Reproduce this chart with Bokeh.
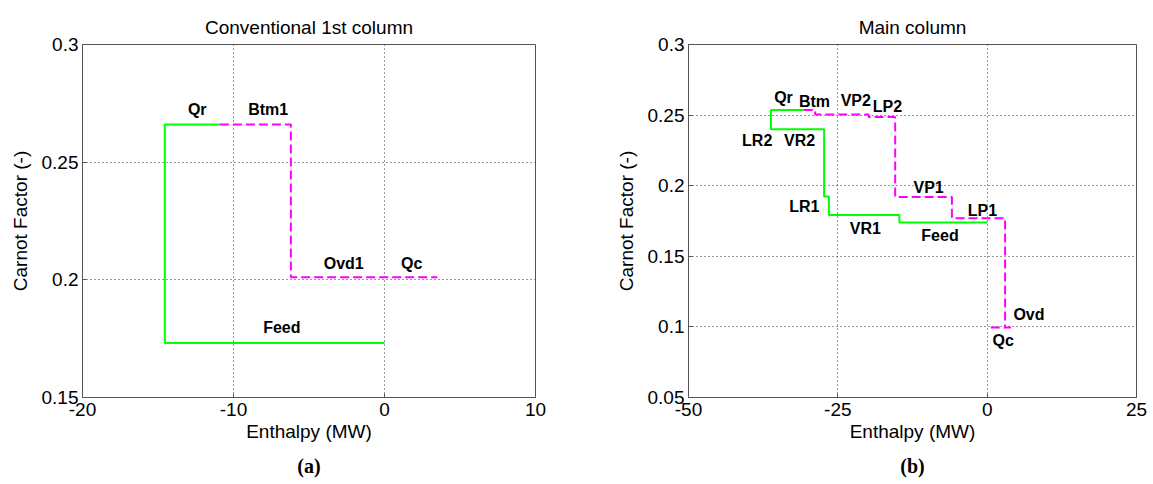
from bokeh.plotting import figure
from bokeh.layouts import row
from bokeh.models import FixedTicker, CustomJSTickFormatter, Title, ColumnDataSource
from bokeh.embed import file_html
from bokeh.resources import INLINE
from bokeh.core.properties import value

# ---------------- data: (a) Conventional 1st column ----------------
a_green_x = [-10.9, -14.55, -14.55, 0.0]
a_green_y = [0.266, 0.266, 0.1732, 0.1732]
a_mag_x = [-10.9, -6.2, -6.2, 3.5]
a_mag_y = [0.266, 0.266, 0.2011, 0.2011]
a_lab_text = ["Qr", "Btm1", "Ovd1", "Qc", "Feed"]
a_lab_x = [-12.4, -7.7, -2.7, 1.8, -6.8]
a_lab_y = [0.2723, 0.2724, 0.2068, 0.2068, 0.1799]
a_xticks = [-20, -10, 0, 10]
a_yticks = [0.15, 0.2, 0.25, 0.3]

# ---------------- data: (b) Main column ----------------
b_green_x = [-30.7, -36.2, -36.2, -27.3, -27.3, -26.5, -26.5, -14.7, -14.7, 0.0]
b_green_y = [0.2537, 0.2537, 0.240, 0.240, 0.1923, 0.1923, 0.1792, 0.1792, 0.174, 0.174]
b_mag_x = [-30.7, -28.8, -28.8, -19.85, -19.85, -15.4, -15.4, -5.9, -5.9, 3.0, 3.0, 4.5]
b_mag_y = [0.2537, 0.2537, 0.2505, 0.2505, 0.2486, 0.2486, 0.192, 0.192, 0.177, 0.177, 0.0995, 0.0995]
b_qc_x = [0.6, 3.0]
b_qc_y = [0.0995, 0.0995]
b_lab_text = ["Qr", "Btm", "VP2", "LP2", "LR2", "VR2", "LR1", "VR1", "Feed", "VP1", "LP1", "Ovd", "Qc"]
b_lab_x = [-34.1, -28.9, -22.0, -16.7, -38.5, -31.4, -30.6, -20.4, -7.9, -9.8, -0.8, 7.0, 2.7]
b_lab_y = [0.2627, 0.2599, 0.2604, 0.2561, 0.2322, 0.2322, 0.1852, 0.1696, 0.1650, 0.1989, 0.1826, 0.1085, 0.0905]
b_xticks = [-50, -25, 0, 25]
b_yticks = [0.05, 0.1, 0.15, 0.2, 0.25, 0.3]

GREEN = "#00ff00"
MAGENTA = "#ff00ff"
FRAME = "#555555"
FONT = "Liberation Sans"


def style(p, xticks, yticks, caption):
    p.title.text_font = FONT
    p.title.text_font_size = "19px"
    p.title.text_font_style = "normal"
    p.title.align = "center"
    p.title.standoff = 13
    p.title.text_color = "black"
    p.outline_line_color = FRAME
    p.outline_line_width = 1
    p.background_fill_color = "white"
    p.border_fill_color = "white"
    for ax in (p.xaxis[0], p.yaxis[0]):
        ax.axis_line_color = FRAME
        ax.major_tick_line_color = FRAME
        ax.major_tick_in = 4
        ax.major_tick_out = 0
        ax.minor_tick_line_color = None
        ax.major_label_text_font = FONT
        ax.major_label_text_font_size = "19px"
        ax.major_label_text_color = "black"
        ax.axis_label_text_font = FONT
        ax.axis_label_text_font_size = "19px"
        ax.axis_label_text_font_style = "normal"
        ax.axis_label_text_color = "black"
    p.xaxis[0].ticker = FixedTicker(ticks=xticks)
    p.yaxis[0].ticker = FixedTicker(ticks=yticks)
    p.xaxis[0].formatter = CustomJSTickFormatter(code="return String(tick);")
    p.yaxis[0].formatter = CustomJSTickFormatter(code="return String(parseFloat(tick.toFixed(2)));")
    p.xaxis[0].major_label_standoff = 5
    p.xaxis[0].axis_label_standoff = 2
    p.yaxis[0].major_label_standoff = 4
    p.yaxis[0].axis_label_standoff = 8
    for g in (p.xgrid[0], p.ygrid[0]):
        g.grid_line_color = "#333333"
        g.grid_line_dash = "1 3"
        g.grid_line_width = 1
    p.add_layout(Title(text=caption, align="center", standoff=16,
                       text_font="Liberation Serif",
                       text_font_size="20px", text_font_style="bold", text_color="black"), "below")


def add_labels(p, xs, ys, texts):
    src = ColumnDataSource(dict(x=xs, y=ys, t=texts))
    p.text(x="x", y="y", text="t", source=src, text_align="center", text_baseline="middle",
           text_font=value(FONT), text_font_size="16px", text_font_style="bold", text_color="black")


pa = figure(width=576, height=484, x_range=(-20, 10), y_range=(0.15, 0.3),
            title="Conventional 1st column", x_axis_label="Enthalpy (MW)",
            y_axis_label="Carnot Factor (-)", output_backend="svg", toolbar_location=None,
            min_border_left=82, min_border_right=41, min_border_top=44, min_border_bottom=87)
pa.line(a_green_x, a_green_y, line_color=GREEN, line_width=2)
pa.line(a_mag_x, a_mag_y, line_color=MAGENTA, line_width=2, line_dash="9 4")
add_labels(pa, a_lab_x, a_lab_y, a_lab_text)
style(pa, a_xticks, a_yticks, "(a)")

pb = figure(width=577, height=484, x_range=(-50, 25), y_range=(0.05, 0.3),
            title="Main column", x_axis_label="Enthalpy (MW)",
            y_axis_label="Carnot Factor (-)", output_backend="svg", toolbar_location=None,
            min_border_left=112, min_border_right=17, min_border_top=41, min_border_bottom=87)
pb.line(b_green_x, b_green_y, line_color=GREEN, line_width=2)
pb.line(b_mag_x, b_mag_y, line_color=MAGENTA, line_width=2, line_dash="9 4")
pb.line(b_qc_x, b_qc_y, line_color=MAGENTA, line_width=2, line_dash="9 4")
add_labels(pb, b_lab_x, b_lab_y, b_lab_text)
style(pb, b_xticks, b_yticks, "(b)")

layout = row(pa, pb)
open("out.html", "w").write(file_html(layout, INLINE))
